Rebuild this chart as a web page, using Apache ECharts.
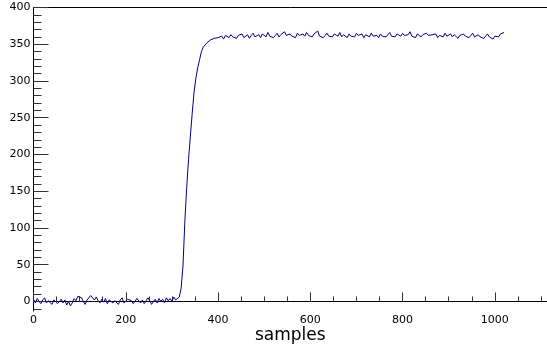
<!DOCTYPE html>
<html>
<head>
<meta charset="utf-8">
<script src="https://cdn.jsdelivr.net/npm/echarts@6/dist/echarts.min.js"></script>
<style>html,body{margin:0;padding:0;background:#fff;}#c{width:547px;height:345px;}</style>
</head>
<body>
<div id="c"></div>
<script>
// sample spacing of the listed values (sample index = position * sampleStep)
const sampleStep = 4;
const values = [
  3, -2, 4, 0, -3, 2, 5, -2, 1, 3, -4, 2, 4, -3, 0, 3, -2, 2, -5, 0,
  -6, -2, 4, 1, 7, 9, 5, 0, -4, 2,
  3, 8, 6, 2, 6, 1, -2, 3, -1, 4,
  -3, 2, 4, -2, 1, 3, -4, 2, 5, -2,
  0, 3, 5, 1, -3, 0, 4, 2, -2, 2,
  -3, 1, 5, 1, -4, 0, 3, -2, 4, 0,
  3, -2, 5, 1, 4, 0, 6, 2, 4,
  6, 18, 48, 108, 155, 193, 225, 256, 285, 304, 318, 329, 340, 346, 349, 352, 353, 356, 354, 358, 356, 359,
  358, 361, 357, 362, 360, 359, 363, 360, 361, 358,
  362, 360, 364, 359, 361, 363, 358, 362, 365, 360,
  361, 363, 359, 364, 362, 360, 366, 361, 363, 359,
  362, 365, 360, 363, 361, 367, 362, 360, 364, 361,
  363, 359, 365, 362, 360, 364, 361, 366, 362, 363,
  360, 364, 362, 368, 361, 363, 359, 362, 365, 361,
  363, 360, 364, 362, 361, 366, 360, 363, 362, 359,
  364, 361, 363, 360, 365, 362, 361, 364, 359, 363,
  362, 360, 365, 361, 363, 362, 359, 364, 361, 363,
  360, 362, 366, 361, 363, 360, 364, 362, 361, 365,
  362, 360, 363, 367, 361, 362, 359, 364, 362, 360,
  363, 361, 365, 362, 360, 363, 361, 364, 359, 362,
  363, 360, 365, 361, 362, 364, 360, 363, 361, 358,
  362, 360, 364, 361, 363, 359, 362, 365, 360, 361,
  363, 360, 362, 358, 361, 364, 360, 362, 357, 361,
  363, 360, 364, 362, 366
];
const xMajorTicks = [0, 200, 400, 600, 800, 1000];
const xMinorTicks = [0,50,100,150,200,250,300,350,400,450,500,550,600,650,700,750,800,850,900,950,1000,1050,1100];
const yMajorTicks = [0, 50, 100, 150, 200, 250, 300, 350, 400];
const yMinorTicks = [-10,0,10,20,30,40,50,60,70,80,90,100,110,120,130,140,150,160,170,180,190,200,210,220,230,240,250,260,270,280,290,300,310,320,330,340,350,360,370,380,390,400];
const xTitle = 'samples';

const X_MIN = 0, X_MAX = 1113, Y_MIN = -13, Y_MAX = 400;
const FONT = 'DejaVu Sans';
const data = values.map((v, i) => [i * sampleStep, v]);
const plain = v => String(v);

const chart = echarts.init(document.getElementById('c'), null, {renderer: 'canvas'});
chart.setOption({
  animation: false,
  backgroundColor: '#ffffff',
  grid: {left: 33.5, right: 0, top: 7.5, bottom: 34, containLabel: false, outerBoundsMode: 'none'},
  xAxis: [
    {
      type: 'value', min: X_MIN, max: X_MAX, position: 'bottom',
      axisLine: {show: true, lineStyle: {color: '#000', width: 1}},
      axisTick: {show: true, inside: true, length: 9, customValues: xMajorTicks, lineStyle: {color: '#333'}},
      axisLabel: {show: true, customValues: xMajorTicks, formatter: plain, margin: 4, color: '#000', fontFamily: FONT, fontSize: 11},
      splitLine: {show: false},
      name: xTitle, nameLocation: 'middle', nameGap: 16, nameMoveOverlap: false,
      nameTextStyle: {color: '#000', fontFamily: FONT, fontSize: 17}
    },
    {
      type: 'value', min: X_MIN, max: X_MAX, position: 'bottom',
      axisLine: {show: false},
      axisTick: {show: true, inside: true, length: 5, customValues: xMinorTicks, lineStyle: {color: '#333'}},
      axisLabel: {show: false}, splitLine: {show: false}
    },
    {
      type: 'value', min: X_MIN, max: X_MAX, position: 'top',
      axisLine: {show: true, lineStyle: {color: '#000', width: 1}},
      axisTick: {show: false}, axisLabel: {show: false}, splitLine: {show: false}
    }
  ],
  yAxis: [
    {
      type: 'value', min: Y_MIN, max: Y_MAX, position: 'left',
      axisLine: {show: true, lineStyle: {color: '#000', width: 1}},
      axisTick: {show: true, inside: true, length: 15, customValues: yMajorTicks, lineStyle: {color: '#333'}},
      axisLabel: {show: true, customValues: yMajorTicks, formatter: plain, margin: 3, color: '#000', fontFamily: FONT, fontSize: 11},
      splitLine: {show: false}
    },
    {
      type: 'value', min: Y_MIN, max: Y_MAX, position: 'left',
      axisLine: {show: false},
      axisTick: {show: true, inside: true, length: 8, customValues: yMinorTicks, lineStyle: {color: '#333'}},
      axisLabel: {show: false}, splitLine: {show: false}
    }
  ],
  series: [{
    type: 'line', xAxisIndex: 0, yAxisIndex: 0, data: data,
    showSymbol: false, symbol: 'none',
    lineStyle: {color: '#000080', width: 1}
  }]
});
</script>
</body>
</html>
